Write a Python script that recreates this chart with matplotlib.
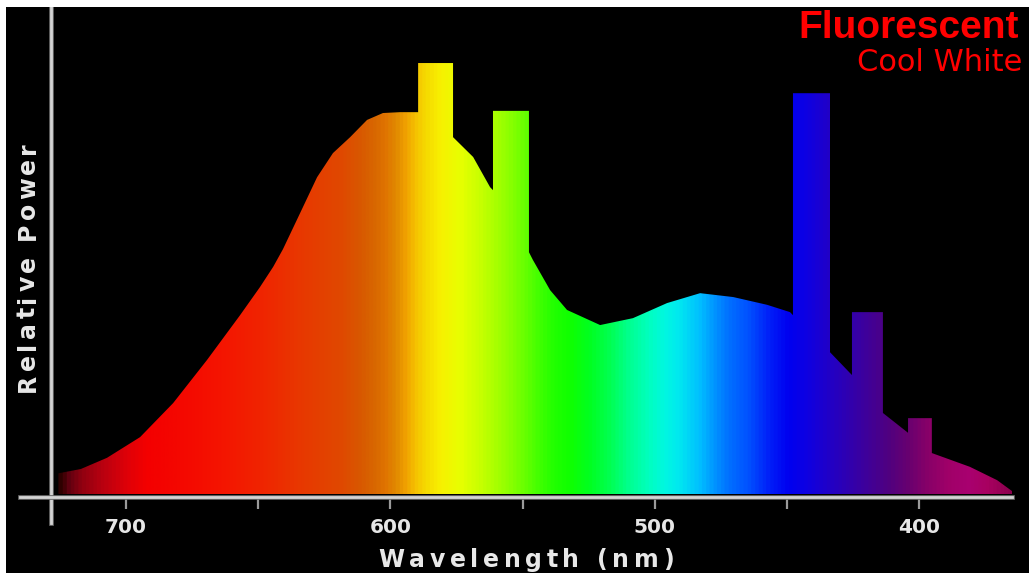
import numpy as np
import matplotlib
matplotlib.use("Agg")
import matplotlib.pyplot as plt
from matplotlib.colors import LinearSegmentedColormap
from matplotlib.patches import Rectangle, Polygon
from matplotlib.font_manager import FontProperties, findfont
from matplotlib.ft2font import FT2Font
import matplotlib.patheffects as pe

W, H, DPI = 1029, 573, 100

# Broad phosphor continuum: wavelength (nm) and relative power
cont_nm = [725.5, 717.0, 707.1, 694.6, 682.1, 669.3, 656.8, 649.3, 644.3, 640.6,
           634.1, 627.7, 621.7, 615.2, 608.8, 602.8, 596.3, 589.5,
           576.3, 568.7, 562.3, 561.2,
           547.6, 546.1, 539.6, 533.2, 520.7, 508.3, 495.4, 482.9, 470.4,
           457.6, 448.9, 447.8,
           433.8, 425.5,
           413.8, 404.3,
           395.3, 380.9, 370.6, 364.6]
cont_pw = [4.8, 5.8, 8.4, 13.2, 21.1, 31.1, 41.5, 48.0, 52.7, 56.8,
           65.2, 73.5, 79.1, 82.8, 86.8, 88.4, 88.6, 88.6,
           82.8, 78.2, 71.2, 70.5,
           56.1, 54.3, 47.3, 42.7, 39.2, 40.8, 44.3, 46.6, 45.7,
           43.9, 42.2, 41.5,
           32.9, 27.6,
           18.8, 14.2,
           9.5, 6.3, 3.2, 0.5]

# Mercury emission lines: long edge, short edge (nm) and peak power
line_long = [589.5, 561.2, 447.8, 425.5, 404.3]
line_short = [576.3, 547.6, 433.8, 413.8, 395.3]
line_peak = [100.0, 88.9, 93.0, 42.2, 17.6]

# Axis ticks
tick_nm = [700, 650, 600, 550, 500, 450, 400]
tick_labels = ["700", "", "600", "", "500", "", "400"]

# Colour of the spectrum at each wavelength
hue_nm = [728.0, 724.8, 722.2, 717.3, 709.5, 700.0, 692.5, 679.5, 664.4, 649.3,
          634.1, 619.0, 611.4, 605.8, 602.0, 598.2, 594.4, 590.7, 586.9, 581.2,
          573.7, 566.1, 558.6, 552.9, 543.4, 537.8, 532.1, 524.5, 517.0, 509.4,
          501.8, 496.2, 490.5, 482.9, 476.5, 471.6, 464.1, 456.5, 449.0, 441.4,
          433.8, 426.3, 418.7, 411.1, 403.6, 396.0, 388.4, 380.9, 373.3, 365.8, 362.0]
hue_hex = ["#200000", "#300000", "#600010", "#900010", "#b80010", "#e00008", "#f40000",
           "#f40800", "#f51400", "#f02400", "#e83800", "#e04800", "#d85800", "#d86800",
           "#e07400", "#e08800", "#f0a000", "#f5c000", "#f5d800", "#f8f000", "#e8ff00",
           "#c8ff00", "#a0ff00", "#80ff00", "#40ff00", "#20ff00", "#10ff00", "#00ff20",
           "#00ff50", "#00ff90", "#00ffc0", "#00f8e0", "#00e8f0", "#00c0ff", "#0090ff",
           "#0070ff", "#0050ff", "#0020f8", "#0000f0", "#1000e0", "#2000c8", "#3000b0",
           "#400098", "#500080", "#680070", "#880068", "#a00068", "#a80070", "#a80060",
           "#900050", "#800048"]

X_LIM = (740.0, 365.0)
Y_LIM = (-6.73, 113.0)
AXIS_Y = -0.81
AXIS_X = 728.25

fig = plt.figure(figsize=(W / DPI, H / DPI), dpi=DPI, facecolor="black")
fig.add_artist(Rectangle((0, 1 - 7 / H), 1, 7 / H, transform=fig.transFigure,
                         facecolor="white", edgecolor="none", zorder=10))
fig.add_artist(Rectangle((0, 0), 6 / W, 1, transform=fig.transFigure,
                         facecolor="white", edgecolor="none", zorder=10))

ax = fig.add_axes([20 / W, 50 / H, 992 / W, 516 / H])
ax.set_facecolor("none")

# Outline of the spectrum: continuum with the line plateaus spliced in
verts = [(cont_nm[0], 0.0)]
for x, y in zip(cont_nm, cont_pw):
    if any(s < x < l for l, s in zip(line_long, line_short)):
        continue
    verts.append((x, y))
    for l, s, p in zip(line_long, line_short, line_peak):
        if np.isclose(x, l):
            verts.append((l, p))
            verts.append((s, p))
verts.append((cont_nm[-1], 0.0))

lo, hi = max(hue_nm), min(hue_nm)
pos = [(lo - v) / (lo - hi) for v in hue_nm]
cmap = LinearSegmentedColormap.from_list("spectrum", list(zip(pos, hue_hex)))
grid = np.linspace(cont_nm[0], cont_nm[-1], 1400)
img = cmap((lo - grid) / (lo - hi))[None, :, :]
im = ax.imshow(img, extent=(cont_nm[0], cont_nm[-1], 0, 101), aspect="auto",
               interpolation="bilinear", zorder=2)
shape = Polygon(verts, closed=True, transform=ax.transData,
                facecolor="none", edgecolor="none")
ax.add_patch(shape)
im.set_clip_path(shape)

ax.set_xlim(*X_LIM)
ax.set_ylim(*Y_LIM)

for side in ("top", "right"):
    ax.spines[side].set_visible(False)
ax.spines["bottom"].set_position(("data", AXIS_Y))
ax.spines["left"].set_position(("data", AXIS_X))
for side in ("bottom", "left"):
    sp = ax.spines[side]
    sp.set_color("#d4d4d4")
    sp.set_linewidth(2.0)
    sp.set_path_effects([pe.Stroke(linewidth=3.4, foreground="#6a6a6a"), pe.Normal()])
    sp.set_zorder(3)

ax.set_yticks([])
ax.set_xticks(tick_nm)
ax.set_xticklabels(tick_labels, fontweight="bold", fontsize=14.5, color="#e6e6e6")
ax.tick_params(axis="x", direction="out", length=8.6, width=1.6,
               color="#9a9a9a", pad=6.5)


def tracked(s, x_px, y_px, size, track, family, weight, color, rotation=0):
    """Write s centred on (x_px, y_px) with extra letter spacing (pixels)."""
    prop = FontProperties(family=family, weight=weight, size=size)
    font = FT2Font(findfont(prop))
    font.set_size(size, DPI)
    adv = [font.load_char(ord(ch)).linearHoriAdvance / 65536 for ch in s]
    total = sum(adv) + track * (len(s) - 1)
    off = -total / 2
    for ch, a in zip(s, adv):
        if rotation == 0:
            fx, fy = (x_px + off) / W, 1 - y_px / H
        else:
            fx, fy = x_px / W, 1 - (y_px - off) / H
        fig.text(fx, fy, ch, fontproperties=prop, color=color, rotation=rotation,
                 rotation_mode="anchor", ha="left", va="baseline")
        off += a + track


tracked("Wavelength (nm)", 526, 567, 17, 4.6, "DejaVu Sans", "bold", "#e8e8e8")
tracked("Relative Power", 35, 267, 17, 3.8, "DejaVu Sans", "bold", "#e8e8e8", rotation=90)

fig.text(1019 / W, 1 - 38 / H, "Fluorescent", family="Liberation Sans",
         fontweight="bold", fontsize=28, color="#ff0000", ha="right", va="baseline")
fig.text(1022 / W, 1 - 71 / H, "Cool White", family="DejaVu Sans",
         fontsize=22, color="#ff0000", ha="right", va="baseline")

fig.savefig("out.png", dpi=DPI, facecolor=fig.get_facecolor())
